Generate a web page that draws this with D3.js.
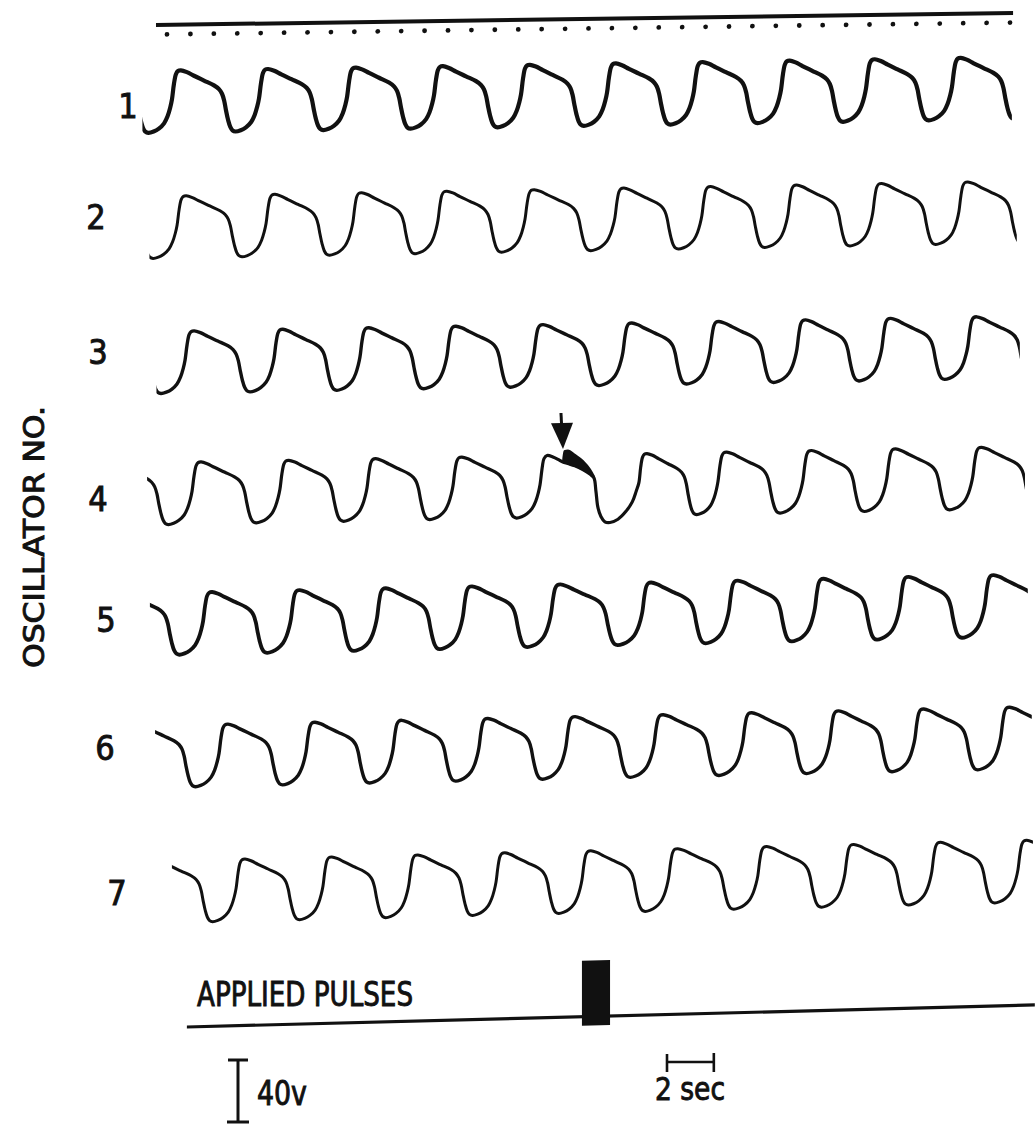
<!DOCTYPE html>
<html>
<head>
<meta charset="utf-8">
<script src="https://cdn.jsdelivr.net/npm/d3@7"></script>
<style>
  html, body { margin: 0; padding: 0; background: #fff; }
  svg { display: block; }
  text { fill: #111; stroke: #111; stroke-width: 0.9px; font-family: "DejaVu Sans Condensed", "DejaVu Sans", "Liberation Sans Narrow", sans-serif; }
</style>
</head>
<body>
<svg id="fig" width="1035" height="1128"></svg>
<script>
// ---- data -------------------------------------------------------------

// Oscillator numbers, top to bottom
const oscillators = ["1", "2", "3", "4", "5", "6", "7"];

// Upstroke times (s) of every cycle, per oscillator
const upstrokes1 = [0.21, 3.93, 7.69, 11.40, 15.12, 18.79, 22.50, 26.22, 29.85, 33.52];
const upstrokes2 = [0.43, 4.23, 7.94, 11.57, 15.29, 19.13, 22.84, 26.52, 30.14, 33.82];
const upstrokes3 = [0.77, 4.57, 8.24, 11.96, 15.67, 19.47, 23.19, 26.90, 30.53, 34.20];
const upstrokes4 = [1.07, 4.82, 8.54, 12.21, 15.93, 20.15, 23.53, 27.16, 30.74, 34.41];
const upstrokes5 = [1.54, 5.29, 8.97, 12.64, 16.40, 20.30, 24.00, 27.67, 31.30, 34.93];
const upstrokes6 = [2.22, 5.94, 9.65, 13.32, 17.04, 20.80, 24.59, 28.31, 31.94, 35.61];
const upstrokes7 = [2.95, 6.66, 10.33, 14.05, 17.72, 21.42, 25.23, 28.95, 32.66, 36.34];

// Recorded span of each trace (s)
const traceStart = [-1.05, -0.75, -0.45, -0.85, -0.73, -0.51, 0.21];
const traceEnd   = [36.08, 36.29, 36.42, 36.64, 36.76, 36.93, 36.98];

// One cycle of the relaxation waveform: phase from one upstroke to the next,
// and volts above the trough
const cyclePhase = [0.000, 0.023, 0.046, 0.069, 0.103, 0.172, 0.253, 0.368, 0.483, 0.540,
                    0.575, 0.600, 0.620, 0.645, 0.670, 0.695, 0.730, 0.790, 0.850, 0.910,
                    0.950, 0.980, 1.000];
const cycleVolts = [21.2, 31.2, 37.6, 39.6, 40.0, 38.8, 36.4, 33.2, 30.0, 27.5,
                    24.5, 20.0, 14.0, 7.5, 3.0, 0.8, 0.0, 0.8, 2.6, 6.0,
                    10.5, 16.0, 21.2];

// Oscillator 4: the cycle hit by the applied pulses (time s, volts)
const disturbedTimes = [15.93, 16.03, 16.10, 16.23, 16.48, 16.74, 16.91, 17.12, 17.42, 17.76,
                        18.06, 18.23, 18.32, 18.40, 18.53, 18.70, 18.92, 19.26, 19.60, 19.87,
                        20.04, 20.15];
const disturbedVolts = [21.2, 33.0, 38.0, 40.0, 39.0, 37.0, 35.5, 34.5, 33.0, 30.5,
                        27.5, 25.0, 16.0, 6.0, 0.0, -3.5, -4.0, -2.0, 3.0, 9.0,
                        16.0, 21.2];

// Pulse artifact riding on oscillator 4 (time s, upper and lower edge in volts)
const artifactTimes = [16.91, 16.97, 17.12, 17.42, 17.76, 18.06, 18.23];
const artifactHigh  = [35.5, 42.5, 43.0, 40.0, 36.0, 30.5, 26.0];
const artifactLow   = [35.5, 35.2, 34.5, 33.0, 30.5, 27.5, 25.0];

// Moment the pulses reach oscillator 4 (arrow)
const pulseArrowTime = 16.91;

// Applied pulse train (s) and the span of its channel
const pulseStart = 17.72;
const pulseEnd = 18.92;
const pulseChannel = [0.85, 37.06];

// Timing marks, one per second, and the span of the timer line
const timeMarks = d3.range(0, 37);
const timerSpan = [-0.47, 36.13];

// Calibration bars
const voltBar = 40;   // volts
const timeBar = 2;    // seconds

// ---- layout -----------------------------------------------------------

const layout = {
  originX: 167,
  rows: [
    { base: 132.6, slope: -0.016,  label: [128, 106], width: 4.2 },
    { base: 258.2, slope: -0.0178, label: [96, 217],  width: 3.0 },
    { base: 393.4, slope: -0.018,  label: [98, 352],  width: 3.4 },
    { base: 524.6, slope: -0.0188, label: [98, 499],  width: 3.2 },
    { base: 655.0, slope: -0.0217, label: [106, 620], width: 3.8 },
    { base: 787.4, slope: -0.0216, label: [105, 748], width: 3.4 },
    { base: 922.9, slope: -0.024,  label: [117, 893], width: 3.0 }
  ],
  timer: { base: 24.85, slope: -0.014, dotGap: 9.5 },
  pulse: { base: 1027.5, slope: -0.026 }
};

const ink = "#111";
const svg = d3.select("#fig");

const x = d3.scaleLinear().domain([0, 36]).range([167, 1010]);
const v = d3.scaleLinear().domain([0, 40]).range([0, -62]);

// group whose vertical origin sits on a row and follows its drift
function rowGroup(base, slope) {
  const deg = Math.atan(slope) * 180 / Math.PI;
  return svg.append("g")
    .attr("transform", `translate(${layout.originX},${base}) skewY(${deg}) translate(${-layout.originX},0)`);
}

// build a trace from its upstroke times using the cycle shape
function tracePoints(ups, special) {
  const pts = [];
  const n = ups.length;
  const bounds = [ups[0] - (ups[1] - ups[0])].concat(ups, [ups[n - 1] + (ups[n - 1] - ups[n - 2])]);
  for (let k = 0; k < bounds.length - 1; k++) {
    const a = bounds[k], b = bounds[k + 1];
    if (special && Math.abs(a - special.from) < 1e-6) {
      special.times.forEach((t, i) => pts.push([t, special.volts[i]]));
      continue;
    }
    cyclePhase.forEach((p, i) => pts.push([a + p * (b - a), cycleVolts[i]]));
  }
  // drop duplicates at segment joins
  return pts.filter((d, i) => i === 0 || d[0] > pts[i - 1][0] + 1e-6);
}

const line = d3.line()
  .x(d => x(d[0]))
  .y(d => v(d[1]))
  .curve(d3.curveCatmullRom.alpha(0.5));

const allUpstrokes = [upstrokes1, upstrokes2, upstrokes3, upstrokes4, upstrokes5, upstrokes6, upstrokes7];

const defs = svg.append("defs");

allUpstrokes.forEach((ups, r) => {
  const row = layout.rows[r];
  const g = rowGroup(row.base, row.slope);
  const special = r === 3 ? { from: upstrokes4[4], times: disturbedTimes, volts: disturbedVolts } : null;
  const pts = tracePoints(ups, special);

  const clipId = `clip-${r}`;
  defs.append("clipPath").attr("id", clipId)
    .append("rect")
    .attr("x", x(traceStart[r]))
    .attr("y", -200)
    .attr("width", x(traceEnd[r]) - x(traceStart[r]))
    .attr("height", 400);

  g.append("path")
    .attr("d", line(pts))
    .attr("clip-path", `url(#${clipId})`)
    .attr("fill", "none")
    .attr("stroke", ink)
    .attr("stroke-width", row.width)
    .attr("stroke-linejoin", "round")
    .attr("stroke-linecap", "round");

  if (r === 3) {
    // pulse artifact
    const area = d3.area()
      .x((d, i) => x(artifactTimes[i]))
      .y0((d, i) => v(artifactLow[i]))
      .y1((d, i) => v(artifactHigh[i]))
      .curve(d3.curveMonotoneX);
    g.append("path")
      .attr("d", area(artifactTimes))
      .attr("fill", ink)
      .attr("stroke", ink)
      .attr("stroke-width", 2);

    // arrow pointing at the disturbance
    const ax = x(pulseArrowTime);
    const tip = v(44);
    g.append("line")
      .attr("x1", ax - 2).attr("x2", ax - 1)
      .attr("y1", tip - 36).attr("y2", tip - 16)
      .attr("stroke", ink).attr("stroke-width", 3);
    g.append("path")
      .attr("d", `M${ax - 12},${tip - 26} L${ax + 10},${tip - 26} L${ax},${tip} Z`)
      .attr("fill", ink);
  }

  svg.append("text")
    .attr("x", row.label[0])
    .attr("y", row.label[1] + 12)
    .attr("text-anchor", "middle")
    .attr("font-size", 34)
    .text(oscillators[r]);
});

// timer line with one-second marks
{
  const t = layout.timer;
  const g = rowGroup(t.base, t.slope);
  g.append("line")
    .attr("x1", x(timerSpan[0])).attr("x2", x(timerSpan[1]))
    .attr("y1", 0).attr("y2", 0)
    .attr("stroke", ink).attr("stroke-width", 4);
  g.selectAll("circle.mark").data(timeMarks).join("circle")
    .attr("class", "mark")
    .attr("cx", d => x(d))
    .attr("cy", t.dotGap)
    .attr("r", 2.4)
    .attr("fill", ink);
}

// applied pulses channel
{
  const p = layout.pulse;
  const g = rowGroup(p.base, p.slope);
  g.append("line")
    .attr("x1", x(pulseChannel[0])).attr("x2", x(pulseChannel[1]))
    .attr("y1", 0).attr("y2", 0)
    .attr("stroke", ink).attr("stroke-width", 3.2);
  g.append("rect")
    .attr("x", x(pulseStart))
    .attr("width", x(pulseEnd) - x(pulseStart))
    .attr("y", -56)
    .attr("height", 65)
    .attr("fill", ink);
}

svg.append("text")
  .attr("x", 197).attr("y", 1006)
  .attr("font-size", 34)
  .attr("textLength", 216)
  .attr("lengthAdjust", "spacingAndGlyphs")
  .text("APPLIED PULSES");

// y-axis title
svg.append("text")
  .attr("transform", "translate(44,537) rotate(-90)")
  .attr("text-anchor", "middle")
  .attr("font-size", 28)
  .attr("textLength", 262)
  .attr("lengthAdjust", "spacingAndGlyphs")
  .text("OSCILLATOR NO.");

// 40 V calibration bar
{
  const bx = 238, top = 1060;
  const len = Math.abs(v(voltBar) - v(0));
  const g = svg.append("g").attr("stroke", ink).attr("stroke-width", 3);
  g.append("line").attr("x1", bx).attr("x2", bx).attr("y1", top).attr("y2", top + len);
  g.append("line").attr("x1", bx - 10).attr("x2", bx + 10).attr("y1", top).attr("y2", top);
  g.append("line").attr("x1", bx - 11).attr("x2", bx + 11).attr("y1", top + len).attr("y2", top + len);
  svg.append("text")
    .attr("x", 257).attr("y", 1105)
    .attr("font-size", 33)
    .attr("textLength", 50)
    .attr("lengthAdjust", "spacingAndGlyphs")
    .text(`${voltBar}v`);
}

// 2 s calibration bar
{
  const x0 = 667, y0 = 1062;
  const len = x(timeBar) - x(0);
  const g = svg.append("g").attr("stroke", ink).attr("stroke-width", 2.6);
  g.append("line").attr("x1", x0).attr("x2", x0 + len).attr("y1", y0).attr("y2", y0);
  g.append("line").attr("x1", x0).attr("x2", x0).attr("y1", y0 - 8).attr("y2", y0 + 10);
  g.append("line").attr("x1", x0 + len).attr("x2", x0 + len).attr("y1", y0 - 9).attr("y2", y0 + 10);
  svg.append("text")
    .attr("x", 655).attr("y", 1100)
    .attr("font-size", 32)
    .attr("textLength", 70)
    .attr("lengthAdjust", "spacingAndGlyphs")
    .text(`${timeBar} sec`);
}
</script>
</body>
</html>
